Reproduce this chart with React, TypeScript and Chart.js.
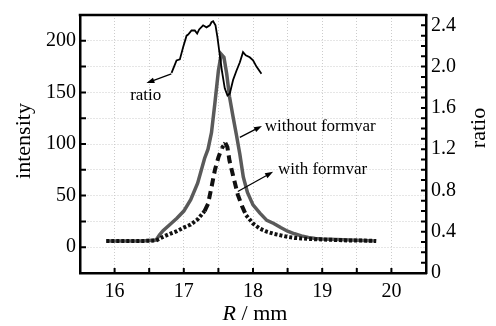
import React, { useEffect, useRef } from 'react';
import { Chart, registerables } from 'chart.js';

Chart.register(...registerables);

// R / mm positions and intensities, "without formvar" (grey solid)
const withoutR = [15.88, 16.0, 16.2, 16.4, 16.6, 16.65, 16.7, 16.8, 16.9, 17.0, 17.1, 17.2, 17.3, 17.35, 17.4, 17.45, 17.5, 17.54, 17.58, 17.62, 17.66, 17.71, 17.76, 17.81, 17.86, 17.92, 18.0, 18.1, 18.2, 18.3, 18.4, 18.5, 18.6, 18.7, 18.8, 18.9, 19.0, 19.2, 19.4, 19.6, 19.78];
const withoutI = [6, 6, 6, 6, 7, 12, 16, 22, 28, 35, 46, 62, 86, 95, 111, 140, 171, 187, 184, 168, 146, 127, 109, 90, 68, 53, 41, 33, 26, 23, 19, 15.5, 13, 11, 9.5, 8.5, 8, 7.5, 7, 6.5, 6];

// "with formvar" (black dashed)
const withR = [15.88, 16.0, 16.2, 16.4, 16.6, 16.7, 16.8, 16.9, 17.0, 17.1, 17.2, 17.3, 17.35, 17.4, 17.45, 17.5, 17.55, 17.6, 17.63, 17.66, 17.71, 17.78, 17.84, 17.9, 18.0, 18.1, 18.2, 18.3, 18.4, 18.5, 18.6, 18.7, 18.8, 19.0, 19.2, 19.4, 19.6, 19.78];
const withI = [6, 6, 6, 6, 6.5, 10, 13, 15.5, 19, 22, 27, 35, 42, 58, 75, 87, 96, 101, 97, 84, 70, 51, 40, 31, 23, 18, 15, 13, 11.5, 10, 9, 8.5, 8, 7.5, 7, 6.5, 6.5, 6];

// ratio (right axis)
const ratioR = [16.823, 16.895, 16.943, 16.991, 17.04, 17.063, 17.112, 17.159, 17.193, 17.222, 17.279, 17.328, 17.376, 17.4, 17.424, 17.458, 17.487, 17.52, 17.553, 17.592, 17.631, 17.665, 17.712, 17.761, 17.809, 17.856, 17.895, 17.953, 18.001, 18.05, 18.122];
const ratioV = [1.94, 2.06, 2.07, 2.19, 2.3, 2.31, 2.35, 2.35, 2.32, 2.36, 2.4, 2.38, 2.4, 2.43, 2.44, 2.4, 2.28, 2.11, 1.95, 1.79, 1.72, 1.74, 1.87, 1.96, 2.04, 2.14, 2.11, 2.09, 2.06, 2.0, 1.93];

// axis ranges
const xRange = [15.5, 20.5];
const yRange = [-25, 225];
const y1Range = [0, 2.5];

// annotations (data units on x / left y axis)
const annoTexts = ['ratio', 'without formvar', 'with formvar'];
const annoTextPos = [[16.45, 142.5], [18.17, 112.7], [18.36, 71]];
const annoTextAlign = ['center', 'left', 'left'];
const arrowTail = [[16.82, 168], [17.81, 106.4], [17.78, 54]];
const arrowHead = [[16.46, 159], [18.13, 117.5], [18.29, 73]];

const SERIF = '"Liberation Serif", "Times New Roman", serif';

const decorPlugin = {
  id: 'decor',
  afterDraw(chart: any) {
    const { ctx, chartArea: ca, scales } = chart;
    const sx = scales.x, sy = scales.y, sy1 = scales.y1;
    ctx.save();
    ctx.setLineDash([]);
    // top frame
    ctx.strokeStyle = '#000';
    ctx.lineWidth = 2.5;
    ctx.beginPath();
    ctx.moveTo(ca.left - 1.25, ca.top);
    ctx.lineTo(ca.right + 1.25, ca.top);
    ctx.stroke();
    // inward ticks
    ctx.lineWidth = 2;
    ctx.beginPath();
    for (const t of sx.ticks) {
      const p = sx.getPixelForValue(t.value);
      ctx.moveTo(p, ca.bottom);
      ctx.lineTo(p, ca.bottom - 5);
    }
    for (const t of sy.ticks) {
      const p = sy.getPixelForValue(t.value);
      ctx.moveTo(ca.left, p);
      ctx.lineTo(ca.left + 6, p);
    }
    for (const t of sy1.ticks) {
      const p = sy1.getPixelForValue(t.value);
      ctx.moveTo(ca.right, p);
      ctx.lineTo(ca.right - 5, p);
    }
    ctx.stroke();

    // axis titles
    ctx.fillStyle = '#000';
    ctx.font = `22px ${SERIF}`;
    ctx.textBaseline = 'middle';
    ctx.textAlign = 'center';
    ctx.save();
    ctx.translate(ca.left - 56, (ca.top + ca.bottom) / 2 - 3);
    ctx.rotate(-Math.PI / 2);
    ctx.fillText('intensity', 0, 0);
    ctx.restore();
    ctx.save();
    ctx.translate(ca.right + 53, (ca.top + ca.bottom) / 2 - 16);
    ctx.rotate(-Math.PI / 2);
    ctx.fillText('ratio', 0, 0);
    ctx.restore();
    // x title with italic R
    ctx.textBaseline = 'alphabetic';
    ctx.textAlign = 'left';
    const partA = 'R';
    const partB = ' / mm';
    ctx.font = `italic 22px ${SERIF}`;
    const wA = ctx.measureText(partA).width;
    ctx.font = `22px ${SERIF}`;
    const wB = ctx.measureText(partB).width;
    const cx = (ca.left + ca.right) / 2 + 2;
    const x0 = cx - (wA + wB) / 2;
    const by = ca.bottom + 47;
    ctx.font = `italic 22px ${SERIF}`;
    ctx.fillText(partA, x0, by);
    ctx.font = `22px ${SERIF}`;
    ctx.fillText(partB, x0 + wA, by);

    // annotations
    ctx.font = `17px ${SERIF}`;
    for (let i = 0; i < annoTexts.length; i++) {
      ctx.textAlign = annoTextAlign[i] as CanvasTextAlign;
      ctx.fillText(annoTexts[i], sx.getPixelForValue(annoTextPos[i][0]), sy.getPixelForValue(annoTextPos[i][1]));
      const x1 = sx.getPixelForValue(arrowTail[i][0]);
      const y1 = sy.getPixelForValue(arrowTail[i][1]);
      const x2 = sx.getPixelForValue(arrowHead[i][0]);
      const y2 = sy.getPixelForValue(arrowHead[i][1]);
      const ang = Math.atan2(y2 - y1, x2 - x1);
      const hl = 8, hw = 2.8;
      ctx.lineWidth = 1.2;
      ctx.beginPath();
      ctx.moveTo(x1, y1);
      ctx.lineTo(x2 - Math.cos(ang) * hl * 0.8, y2 - Math.sin(ang) * hl * 0.8);
      ctx.stroke();
      ctx.beginPath();
      ctx.moveTo(x2, y2);
      ctx.lineTo(x2 - Math.cos(ang) * hl - Math.sin(ang) * hw, y2 - Math.sin(ang) * hl + Math.cos(ang) * hw);
      ctx.lineTo(x2 - Math.cos(ang) * hl + Math.sin(ang) * hw, y2 - Math.sin(ang) * hl - Math.cos(ang) * hw);
      ctx.closePath();
      ctx.fill();
    }
    ctx.restore();
  },
};

export default function App() {
  const ref = useRef<HTMLCanvasElement | null>(null);
  useEffect(() => {
    if (!ref.current) return;
    const gridStyle = { color: '#cccccc', lineWidth: 1, drawTicks: false, tickLength: 0 };
    const chart = new Chart(ref.current, {
      type: 'line',
      data: {
        datasets: [
          {
            label: 'ratio',
            data: ratioR.map((r, i) => ({ x: r, y: ratioV[i] })),
            yAxisID: 'y1',
            borderColor: '#000',
            borderWidth: 1.8,
            pointRadius: 0,
            tension: 0,
          },
          {
            label: 'with formvar',
            data: withR.map((r, i) => ({ x: r, y: withI[i] })),
            yAxisID: 'y',
            borderColor: '#111',
            borderWidth: 4,
            pointRadius: 0,
            tension: 0,
            segment: {
              borderDash: (c: any) => {
                const dx = Math.abs(c.p1.x - c.p0.x);
                const dy = Math.abs(c.p1.y - c.p0.y);
                return dy > dx * 1.5 ? [8, 5] : [3, 2];
              },
            },
          },
          {
            label: 'without formvar',
            data: withoutR.map((r, i) => ({ x: r, y: withoutI[i] })),
            yAxisID: 'y',
            borderColor: '#5a5a5a',
            borderWidth: 3.5,
            pointRadius: 0,
            tension: 0,
          },
        ],
      },
      options: {
        animation: false,
        responsive: false,
        devicePixelRatio: 1,
        layout: { padding: { top: 11, left: 0, right: 0, bottom: 0 } },
        plugins: { legend: { display: false }, tooltip: { enabled: false } },
        scales: {
          x: {
            type: 'linear',
            min: xRange[0],
            max: xRange[1],
            grid: { ...gridStyle },
            border: { color: '#000', width: 2.5, dash: [1, 2] },
            ticks: {
              stepSize: 0.5,
              autoSkip: false,
              maxRotation: 0,
              padding: 9,
              color: '#000',
              font: { family: SERIF, size: 20, lineHeight: 1 },
              callback: (v: any) => (Number.isInteger(v) ? String(v) : ''),
            },
            afterFit: (s: any) => { s.height = 53; },
          },
          y: {
            type: 'linear',
            position: 'left',
            min: yRange[0],
            max: yRange[1],
            grid: { ...gridStyle },
            border: { color: '#000', width: 2.5, dash: [1, 2] },
            ticks: {
              stepSize: 25,
              autoSkip: false,
              padding: 4,
              color: '#000',
              font: { family: SERIF, size: 20, lineHeight: 1 },
              callback: (v: any) => (v % 50 === 0 ? String(v) : ''),
            },
            afterFit: (s: any) => { s.width = 80; },
          },
          y1: {
            type: 'linear',
            position: 'right',
            min: y1Range[0],
            max: y1Range[1],
            grid: { drawOnChartArea: false, drawTicks: false, tickLength: 0 },
            border: { color: '#000', width: 2.5 },
            ticks: {
              stepSize: 0.1,
              autoSkip: false,
              padding: 5,
              color: '#000',
              font: { family: SERIF, size: 20, lineHeight: 1 },
              callback: (v: any) => {
                const k = Math.round(v * 10);
                if (k % 4 !== 0) return '';
                return k === 0 ? '0' : (k / 10).toFixed(1);
              },
            },
            afterFit: (s: any) => { s.width = 70; },
          },
        },
      },
      plugins: [decorPlugin],
    });
    return () => chart.destroy();
  }, []);
  return (
    <div style={{ position: 'fixed', left: 0, top: 0, width: 496, height: 326, background: '#fff' }}>
      <canvas ref={ref} width={496} height={326} style={{ display: 'block' }} />
    </div>
  );
}
